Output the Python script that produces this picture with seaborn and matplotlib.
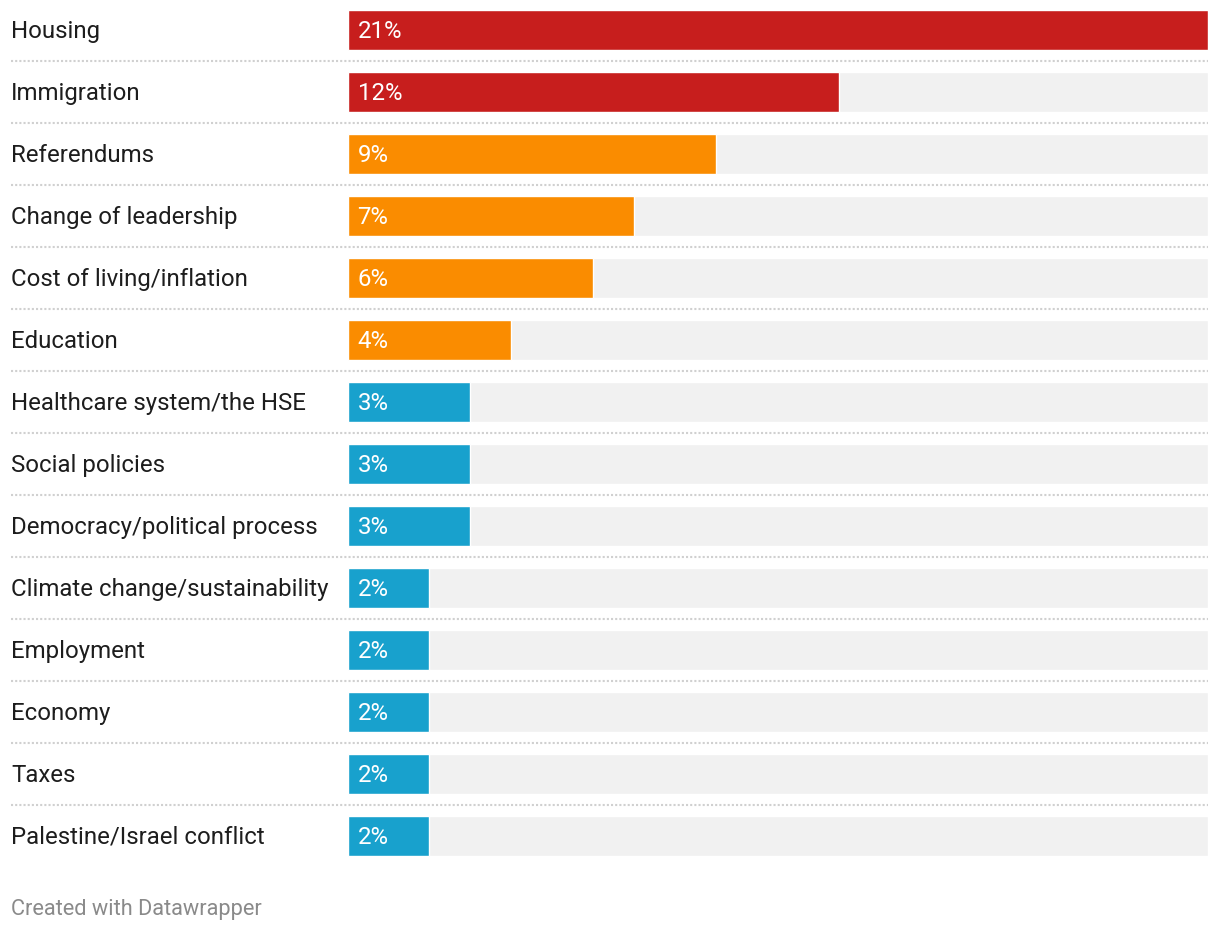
import matplotlib.pyplot as plt
import seaborn as sns
import pandas as pd

issues = [
    "Housing", "Immigration", "Referendums", "Change of leadership",
    "Cost of living/inflation", "Education", "Healthcare system/the HSE",
    "Social policies", "Democracy/political process",
    "Climate change/sustainability", "Employment", "Economy", "Taxes",
    "Palestine/Israel conflict",
]
shares = [21, 12, 9, 7, 6, 4, 3, 3, 3, 2, 2, 2, 2, 2]
tiers = ["top"] * 2 + ["mid"] * 4 + ["low"] * 8
tier_colors = {"top": "#c71e1d", "mid": "#fa8c00", "low": "#18a1cd"}

df = pd.DataFrame({"issue": issues, "share": shares, "tier": tiers})
df["full"] = max(shares)

sns.set_style("white")
plt.rcParams["font.family"] = ["Roboto", "DejaVu Sans"]

W, H = 1220, 932
fig = plt.figure(figsize=(W / 100, H / 100), dpi=100)
# axes spans the bar area; each row is 62px tall
ax = fig.add_axes([347.5 / W, (H - 867) / H, 860.5 / W, 868 / H])

bar_w = 40 / 62
sns.barplot(data=df, x="full", y="issue", color="#f1f1f1", width=bar_w,
            saturation=1, ax=ax)
sns.barplot(data=df, x="share", y="issue", hue="tier", palette=tier_colors,
            dodge=False, width=bar_w, saturation=1, legend=False, ax=ax)

ax.set_xlim(0, max(shares))
ax.set_ylim(len(issues) - 0.5, -0.5)
ax.axis("off")

trans = ax.get_yaxis_transform()
x_label = (12 - 348) / 860
for i, (name, val) in enumerate(zip(issues, shares)):
    ax.text(x_label, i + 0.02, name, transform=trans, ha="left", va="center",
            fontsize=17.3, color="#1d1d1d")
    ax.text(10 / 860, i + 0.02, f"{val}%", transform=trans, ha="left",
            va="center", fontsize=17.3, color="white")
    if i < len(issues) - 1:
        ax.plot([x_label, 1], [i + 0.5, i + 0.5], transform=trans,
                color="#d0d0d0", lw=1.5, ls=(0, (1, 1)), clip_on=False)

fig.text(11 / W, 1 - 909 / H, "Created with Datawrapper", ha="left",
         va="center", fontsize=15.7, color="#8a8a8a")

fig.savefig("out.png", dpi=100, facecolor="white")
